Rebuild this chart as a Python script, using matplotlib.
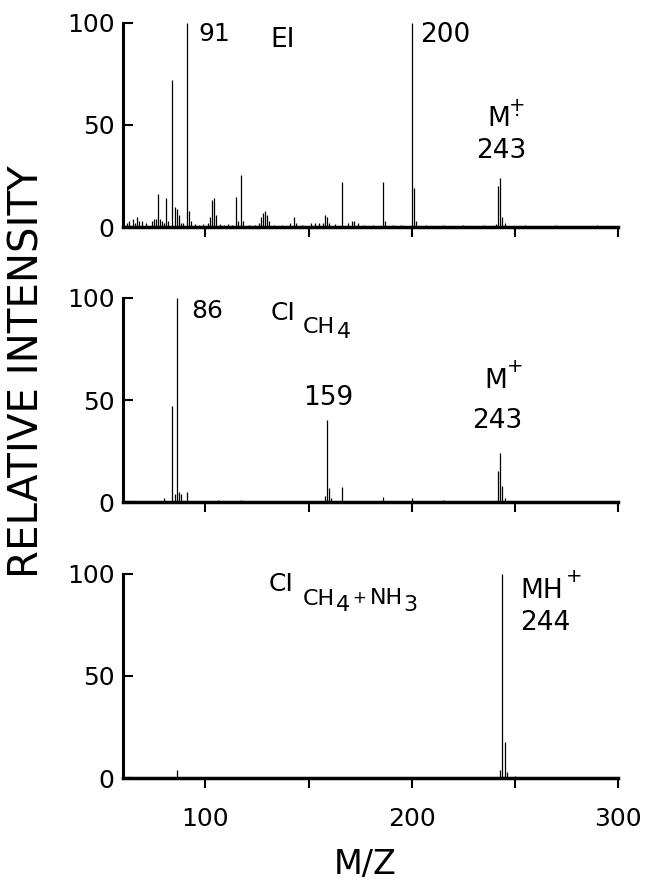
import matplotlib
matplotlib.use("Agg")
import matplotlib.pyplot as plt

plt.rcParams['font.family'] = ['DejaVu Sans']
plt.rcParams['mathtext.default'] = 'regular'

# ---------------- spectra (m/z, relative intensity) ----------------
# EI
ei_mz = [62, 63, 65, 66, 67, 68, 69, 71, 74, 75, 76, 77, 78, 79, 80, 81, 82,
         84, 85, 86, 87, 88, 89, 91, 92, 93, 95, 97, 99, 101, 102, 103, 104, 105,
         107, 109, 111, 113, 115, 116, 117, 118, 121, 124, 126, 127, 128, 129,
         130, 131, 133, 137, 141, 143, 144, 147, 151, 153, 155, 157, 158, 159,
         160, 163, 166, 169, 171, 172, 174, 177, 181, 186, 187, 191, 195, 200,
         201, 202, 207, 215, 225, 235, 241, 242, 243, 244, 245, 255, 270, 290]
ei_int = [2, 3, 4, 2, 5, 3, 3, 2, 3, 4, 4, 16, 4, 3, 2, 14, 3,
          72, 10, 9, 6, 2, 2, 100, 8, 3, 1.5, 1, 1.5, 2, 5, 13, 14, 6,
          1.5, 1, 1.5, 1, 14.5, 3, 25.5, 3, 1, 1, 2, 5, 7, 8,
          6, 3, 1, 1, 2, 5, 2, 1, 2, 2, 2, 2, 6, 5,
          2, 1.5, 22, 2, 3, 3, 2, 1, 1, 22, 3, 1, 1, 100,
          19, 3, 1, 1, 1, 1, 1.5, 20, 24, 5, 2, 1, 1, 1]

# CI methane
ci_mz = [80, 84, 85, 86, 87, 88, 91, 106, 117, 158, 159, 160, 161, 166,
         186, 200, 215, 242, 243, 244, 245]
ci_int = [2, 47, 4, 100, 5, 4, 5, 1, 1, 3, 40, 7, 2, 7.5,
          2.6, 2, 1, 15, 24, 8, 2]

# CI methane + ammonia
cin_mz = [86, 243, 244, 245, 246, 250]
cin_int = [4, 4, 100, 17.7, 3, 1]

fig = plt.figure(figsize=(6.49, 8.84), dpi=100)

left, width, height = 0.1895, 0.7627, 0.2308
bottoms = [0.7432, 0.4321, 0.1199]
spectra = [(ei_mz, ei_int), (ci_mz, ci_int), (cin_mz, cin_int)]

axes = []
for i, (b, (mz, inten)) in enumerate(zip(bottoms, spectra)):
    ax = fig.add_axes([left, b, width, height])
    ax.vlines(mz, 0, inten, color='black', lw=0.9)
    ax.set_xlim(60, 300)
    ax.set_ylim(0, 100)
    ax.spines['top'].set_visible(False)
    ax.spines['right'].set_visible(False)
    ax.spines['left'].set_linewidth(2.2)
    ax.spines['bottom'].set_linewidth(2.5)
    ax.set_yticks([0, 50, 100])
    ax.set_yticklabels(['0', '50', '100'], fontsize=18)
    ax.set_xticks([100, 150, 200, 250, 300])
    if i == 2:
        ax.set_xticklabels(['100', '', '200', '', '300'], fontsize=18)
    else:
        ax.set_xticklabels([])
    ax.tick_params(axis='x', direction='out', length=7, width=1.5, pad=14)
    ax.tick_params(axis='y', direction='in', length=7, width=1.5, pad=6)
    axes.append(ax)

ax1, ax2, ax3 = axes

# EI panel labels
ax1.text(96.6, 94.6, '91', fontsize=18, va='center', ha='left')
ax1.text(131.4, 91.7, 'EI', fontsize=19, va='center', ha='left')
ax1.text(204.3, 94.1, '200', fontsize=19, va='center', ha='left')
ax1.text(242, 52.9, 'M', fontsize=19, va='center', ha='center')
ax1.text(251.2, 57, '+\n·', fontsize=14, va='center', ha='center',
         linespacing=0.45)
ax1.text(243.2, 37.3, '243', fontsize=19, va='center', ha='center')

# CI CH4 panel labels
ax2.text(93.2, 93.6, '86', fontsize=18, va='center', ha='left')
ax2.text(131.4, 92.6, 'CI', fontsize=18, va='center', ha='left')
ax2.text(147.3, 85.8, 'CH', fontsize=16, va='center', ha='left')
ax2.text(163.5, 83.3, '4', fontsize=16, va='center', ha='left')
ax2.text(159.4, 51, '159', fontsize=19, va='center', ha='center')
ax2.text(240.6, 59.3, 'M', fontsize=19, va='center', ha='center')
ax2.text(250.2, 66.2, '+', fontsize=14, va='center', ha='center')
ax2.text(241.3, 39.7, '243', fontsize=19, va='center', ha='center')

# CI CH4 + NH3 panel labels
ax3.text(130.4, 95.1, 'CI', fontsize=18, va='center', ha='left')
ax3.text(147.3, 87.8, 'CH', fontsize=16, va='center', ha='left')
ax3.text(163.2, 84.9, '4', fontsize=16, va='center', ha='left')
ax3.text(174.5, 88.3, '+', fontsize=12, va='center', ha='center')
ax3.text(179.5, 88.3, 'NH', fontsize=16, va='center', ha='left')
ax3.text(195.7, 84.9, '3', fontsize=16, va='center', ha='left')
ax3.text(252.7, 91.7, 'MH', fontsize=19, va='center', ha='left')
ax3.text(278.7, 99, '+', fontsize=14, va='center', ha='center')
ax3.text(252.7, 76.1, '244', fontsize=19, va='center', ha='left')

fig.text(0.0424, 0.58, 'RELATIVE INTENSITY', rotation=90, fontsize=29,
         ha='center', va='center')
fig.text(0.5624, 0.0215, 'M/Z', fontsize=24, ha='center', va='center')

plt.savefig('out.png', dpi=100)
